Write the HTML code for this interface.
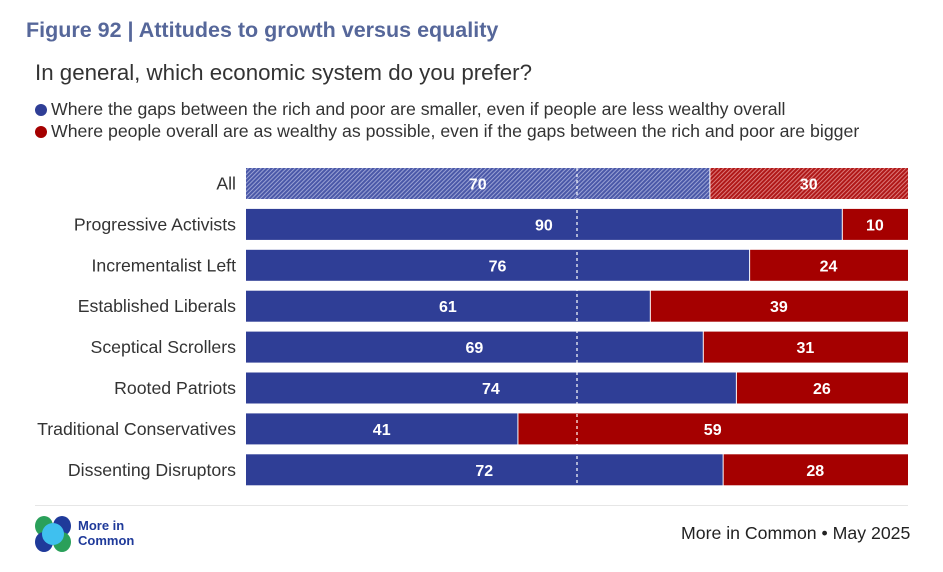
<!DOCTYPE html>
<html><head><meta charset="utf-8"><style>
body{margin:0;background:#fff;width:943px;height:572px;overflow:hidden;font-family:"Liberation Sans",sans-serif;position:relative}
.t{position:absolute;white-space:nowrap}
</style></head><body>
<div class="t" style="left:26px;top:18px;font-size:21.5px;font-weight:bold;color:#56679a">Figure 92 | Attitudes to growth versus equality</div>
<div class="t" style="left:35px;top:60px;font-size:22.3px;color:#333">In general, which economic system do you prefer?</div>
<div class="t" style="left:35px;top:99px;font-size:17.7px;color:#333"><span style="display:inline-block;width:12px;height:12px;border-radius:50%;background:#2f3e96;margin-right:4px;vertical-align:-1px"></span>Where the gaps between the rich and poor are smaller, even if people are less wealthy overall</div>
<div class="t" style="left:35px;top:121px;font-size:17.7px;color:#333"><span style="display:inline-block;width:12px;height:12px;border-radius:50%;background:#a50000;margin-right:4px;vertical-align:-1px"></span>Where people overall are as wealthy as possible, even if the gaps between the rich and poor are bigger</div>
<svg id="chart" width="943" height="572" style="position:absolute;left:0;top:0">
<defs>
<pattern id="hb" width="3" height="3" patternUnits="userSpaceOnUse" patternTransform="rotate(45)"><rect width="3" height="3" fill="#4a58a8"/><rect width="1" height="3" fill="#9aa2d4"/></pattern>
<pattern id="hr" width="3" height="3" patternUnits="userSpaceOnUse" patternTransform="rotate(45)"><rect width="3" height="3" fill="#b01818"/><rect width="1" height="3" fill="#dc7a7a"/></pattern>
</defs>
</svg>
<div style="position:absolute;left:35px;top:505px;width:873px;height:1px;background:#e6e6e6"></div>
<svg style="position:absolute;left:34px;top:515px" width="38" height="38">
<ellipse cx="10" cy="11" rx="9" ry="10" fill="#2aa05a"/><ellipse cx="28" cy="11" rx="9" ry="10" fill="#1f3a9a"/>
<ellipse cx="10" cy="27" rx="9" ry="10" fill="#1f3a9a"/><ellipse cx="28" cy="27" rx="9" ry="10" fill="#2aa05a"/>
<circle cx="19" cy="19" r="11" fill="#3fc0ef"/></svg>
<div class="t" style="left:78px;top:518px;font-size:13px;font-weight:bold;color:#1f3a9a;line-height:15px">More in<br>Common</div>
<div class="t" style="left:681px;top:523px;font-size:17.7px;color:#222">More in Common • May 2025</div>
<script>
const categories=["All","Progressive Activists","Incrementalist Left","Established Liberals","Sceptical Scrollers","Rooted Patriots","Traditional Conservatives","Dissenting Disruptors"];
const smallerGaps=[70,90,76,61,69,74,41,72];
const wealthy=[30,10,24,39,31,26,59,28];
const svg=document.getElementById('chart');const NS='http://www.w3.org/2000/svg';
const x0=246,x1=908,y0=168,step=40.9,bh=31;
const xs=v=>x0+(x1-x0)*v/100;
function el(t,a){const e=document.createElementNS(NS,t);for(const k in a)e.setAttribute(k,a[k]);svg.appendChild(e);return e;}
categories.forEach((c,i)=>{
 const y=y0+i*step,tot=smallerGaps[i]+wealthy[i];
 const lab=el('text',{x:236,y:y+bh/2+6,'text-anchor':'end','font-size':17.7,fill:'#333'});lab.textContent=c;
 
 
 const xb=xs(smallerGaps[i]/tot*100);
 const b=el('rect',{x:x0,y:y,width:xb-x0,height:bh,fill:i==0?'url(#hb)':'#2f3e96'});
 
 
 const r=el('rect',{x:xb+1,y:y,width:x1-xb-1,height:bh,fill:i==0?'url(#hr)':'#a50000'});
 
 
 const t1=el('text',{x:(x0+xb)/2,y:y+bh/2+6,'text-anchor':'middle','font-size':16,'font-weight':'bold',fill:'#fff'});t1.textContent=smallerGaps[i];
 
 
 const t2=el('text',{x:(xb+x1)/2,y:y+bh/2+6,'text-anchor':'middle','font-size':16,'font-weight':'bold',fill:'#fff'});t2.textContent=wealthy[i];
 
 
});
const l=el('line',{x1:xs(50),x2:xs(50),y1:y0,y2:y0+7*step+bh,stroke:'#fff','stroke-width':1.2,'stroke-dasharray':'3,3'});


</script>
</body></html>
